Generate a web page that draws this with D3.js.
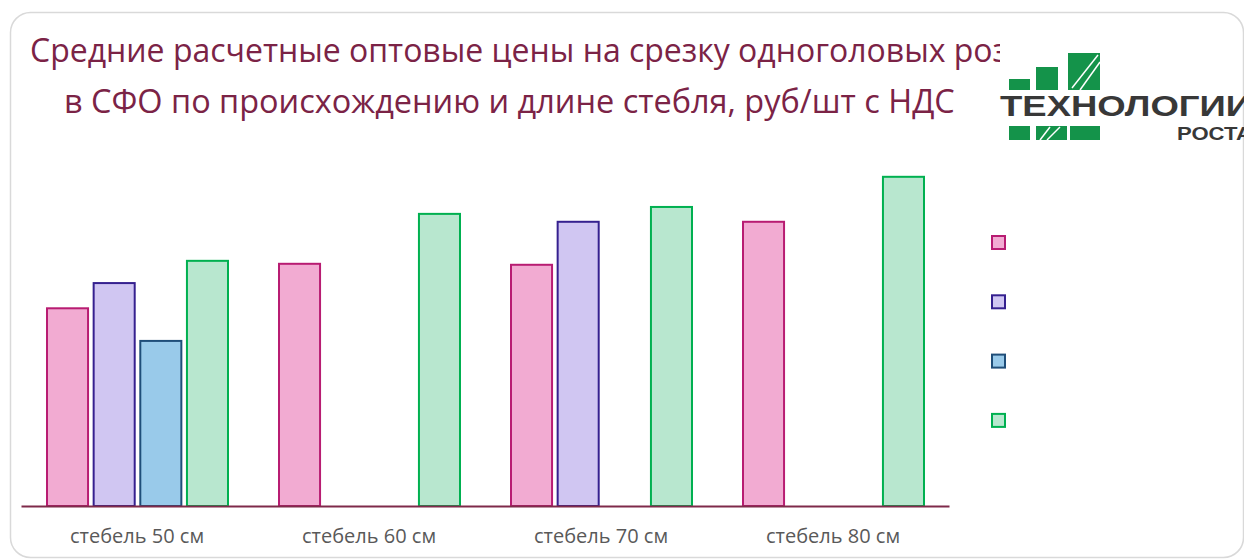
<!DOCTYPE html>
<html>
<head>
<meta charset="utf-8">
<script src="https://cdn.jsdelivr.net/npm/d3@7"></script>
<style>
  html, body { margin: 0; padding: 0; background: #fff; }
  svg { display: block; }
</style>
</head>
<body>
<div id="chart"></div>
<script>
// categories on the x axis
const categories = ["стебель 50 см", "стебель 60 см", "стебель 70 см", "стебель 80 см"];

// series (legend has no visible names in the source picture)
const seriesKeys = ["s1", "s2", "s3", "s4"];

// values, руб/шт (null = no bar)
const s1Values = [40.0, 49.0, 48.8, 57.5];   // pink
const s2Values = [45.1, null, 57.5, null];   // lilac
const s3Values = [33.4, null, null, null];   // blue
const s4Values = [49.6, 59.1, 60.5, 66.6];   // green

const titleLines = [
  "Средние расчетные оптовые цены на срезку одноголовых роз",
  "в СФО по происхождению и длине стебля, руб/шт с НДС"
];

const fills = ["#f2abd2", "#d0c6f2", "#99caea", "#b8e7cf"];
const strokes = ["#b81c72", "#35208f", "#1f4e79", "#00b050"];

const width = 1244, height = 559;

const svg = d3.select("#chart").append("svg")
  .attr("width", width)
  .attr("height", height);

// card frame
svg.append("rect")
  .attr("x", 10.5).attr("y", 12.5)
  .attr("width", 1233).attr("height", 545)
  .attr("rx", 20)
  .attr("fill", "#fff")
  .attr("stroke", "#d9d9d9")
  .attr("stroke-width", 1.5);

// title, clipped where the logo sits
svg.append("clipPath").attr("id", "titleClip")
  .append("rect").attr("x", 0).attr("y", 0).attr("width", 1000).attr("height", 160);

const title = svg.append("g").attr("clip-path", "url(#titleClip)")
  .style("font-family", "'Open Sans', sans-serif")
  .attr("fill", "#7b2346");

const t1 = title.append("text").attr("x", 30).attr("y", 62).text(titleLines[0]);
const t2 = title.append("text").attr("x", 64).attr("y", 113).text(titleLines[1]);
// fit font size to the second line width
t2.style("font-size", "30px");
let fs = 30 * 891 / t2.node().getComputedTextLength();
t1.style("font-size", fs + "px");
t2.style("font-size", fs + "px");
t1.attr("textLength", 978).attr("lengthAdjust", "spacingAndGlyphs");

// logo
const logo = svg.append("g");
const green = "#14934a";
[[1009, 79, 21, 11], [1036, 67, 22, 23], [1068, 53, 32, 37],
 [1009, 126, 21, 14], [1036, 126, 31, 14], [1070, 126, 30, 14]].forEach(r => {
  logo.append("rect").attr("x", r[0]).attr("y", r[1]).attr("width", r[2]).attr("height", r[3]).attr("fill", green);
});
[[1072, 88, 1098, 55], [1080, 90, 1100, 62], [1040, 140, 1050, 127], [1047, 140, 1060, 127]].forEach(l => {
  logo.append("line").attr("x1", l[0]).attr("y1", l[1]).attr("x2", l[2]).attr("y2", l[3])
    .attr("stroke", "#fff").attr("stroke-width", 1.5);
});
logo.append("text").attr("x", 1000).attr("y", 116)
  .attr("textLength", 252).attr("lengthAdjust", "spacingAndGlyphs")
  .style("font-family", "'Liberation Sans Narrow', 'Liberation Sans', sans-serif")
  .style("font-weight", "bold").style("font-size", "29px")
  .attr("fill", "#383838").text("ТЕХНОЛОГИИ");
logo.append("text").attr("x", 1177).attr("y", 140)
  .attr("textLength", 75).attr("lengthAdjust", "spacingAndGlyphs")
  .style("font-family", "'Liberation Sans Narrow', 'Liberation Sans', sans-serif")
  .style("font-weight", "bold").style("font-size", "19px")
  .attr("fill", "#383838").text("РОСТА");

// scales
const x0 = d3.scaleBand().domain(categories).range([21, 949]);
const x1 = d3.scaleBand().domain(seriesKeys).range([26, 207]).paddingInner(0.12);
const y = d3.scaleLinear().domain([0, 70]).range([506, 160]);

const allValues = [s1Values, s2Values, s3Values, s4Values];
const rows = categories.map((c, i) => ({
  cat: c,
  vals: seriesKeys.map((k, j) => ({ key: k, idx: j, v: allValues[j][i] })).filter(d => d.v != null)
}));

const groups = svg.append("g").selectAll("g")
  .data(rows).join("g")
  .attr("transform", d => `translate(${x0(d.cat)},0)`);

groups.selectAll("rect")
  .data(d => d.vals).join("rect")
  .attr("x", d => x1(d.key))
  .attr("y", d => y(d.v))
  .attr("width", x1.bandwidth())
  .attr("height", d => y(0) - y(d.v))
  .attr("fill", d => fills[d.idx])
  .attr("stroke", d => strokes[d.idx])
  .attr("stroke-width", 2);

// x axis
const xAxis = svg.append("g")
  .attr("transform", `translate(0,${y(0)})`)
  .call(d3.axisBottom(x0).tickSize(0).tickSizeOuter(0).tickPadding(23));
xAxis.select(".domain").attr("stroke", "#7f2a4a").attr("stroke-width", 2);
xAxis.selectAll("text")
  .style("font-family", "'Open Sans', sans-serif")
  .style("font-size", "20px")
  .attr("fill", "#595959");

// legend (markers only)
const legend = svg.append("g");
legend.selectAll("rect")
  .data(seriesKeys).join("rect")
  .attr("x", 992)
  .attr("y", (d, i) => 236 + i * 59.3)
  .attr("width", 13).attr("height", 13)
  .attr("fill", (d, i) => fills[i])
  .attr("stroke", (d, i) => strokes[i])
  .attr("stroke-width", 2);
</script>
</body>
</html>
